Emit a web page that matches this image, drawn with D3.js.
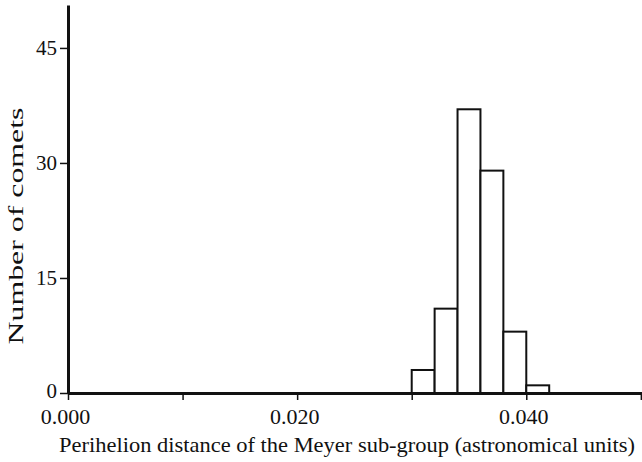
<!DOCTYPE html>
<html><head><meta charset="utf-8">
<script src="https://cdn.jsdelivr.net/npm/d3@7"></script>
<style>body{margin:0;background:#fff}svg{display:block}text{font-family:"Liberation Serif","Times New Roman",serif;fill:#111}</style>
</head><body><svg id="c" width="642" height="462"></svg>
<script>
const binStarts = [0.030, 0.032, 0.034, 0.036, 0.038, 0.040];
const binWidth = 0.002;
const counts = [3, 11, 37, 29, 8, 1];
const yTicks = [0, 15, 30, 45];
const xTicks = [0.000, 0.010, 0.020, 0.030, 0.040, 0.050];
const xTickLabels = ["0.000", "", "0.020", "", "0.040", ""];
const xTitle = "Perihelion distance of the Meyer sub-group (astronomical units)";
const yTitle = "Number of comets";
const serif = "'Liberation Serif','Times New Roman',serif";

const svg = d3.select("#c");
const x = d3.scaleLinear().domain([0, 0.0501]).range([68, 642]);
const y = d3.scaleLinear().domain([0, 50.6]).range([393, 5]);

// bars
svg.append("g").selectAll("rect").data(counts).join("rect")
  .attr("x", (d,i) => x(binStarts[i]))
  .attr("width", (d,i) => x(binStarts[i] + binWidth) - x(binStarts[i]))
  .attr("y", d => y(d))
  .attr("height", d => y(0) - y(d))
  .attr("fill", "#fff").attr("stroke", "#111").attr("stroke-width", 2);

// x axis
const xa = svg.append("g").attr("transform", `translate(0,${y(0)})`)
  .call(d3.axisBottom(x).tickValues(xTicks).tickFormat((d,i) => xTickLabels[i]).tickSize(7).tickSizeOuter(0))
  .attr("font-family", serif);
xa.select(".domain").attr("stroke", "#111").attr("stroke-width", 3);
xa.selectAll(".tick line").attr("stroke", "#111").attr("stroke-width", 1.5);
xa.selectAll(".tick text").attr("font-size", 22).attr("dy", null).attr("y", 31).attr("dx", -3).attr("fill", "#111");

// y axis
const ya = svg.append("g").attr("transform", `translate(${x(0)},0)`)
  .call(d3.axisLeft(y).tickValues(yTicks).tickSize(8).tickSizeOuter(0))
  .attr("font-family", serif);
ya.select(".domain").attr("stroke", "#111").attr("stroke-width", 3);
ya.selectAll(".tick text").attr("font-size", 21).attr("x", -11).attr("fill", "#111");
ya.selectAll(".tick line").attr("stroke", "#111").attr("stroke-width", 1.5);
ya.selectAll(".tick").filter(d => d === 0).select("text").attr("dy", "0.2em");

svg.append("text").attr("x", 347).attr("y", 452).attr("text-anchor", "middle")
  .attr("font-size", 22).attr("textLength", 576).attr("lengthAdjust", "spacingAndGlyphs").text(xTitle);
svg.append("text").attr("transform", "translate(23,226) rotate(-90)").attr("text-anchor", "middle")
  .attr("font-size", 21).attr("textLength", 237).attr("lengthAdjust", "spacingAndGlyphs").text(yTitle);
</script></body></html>
